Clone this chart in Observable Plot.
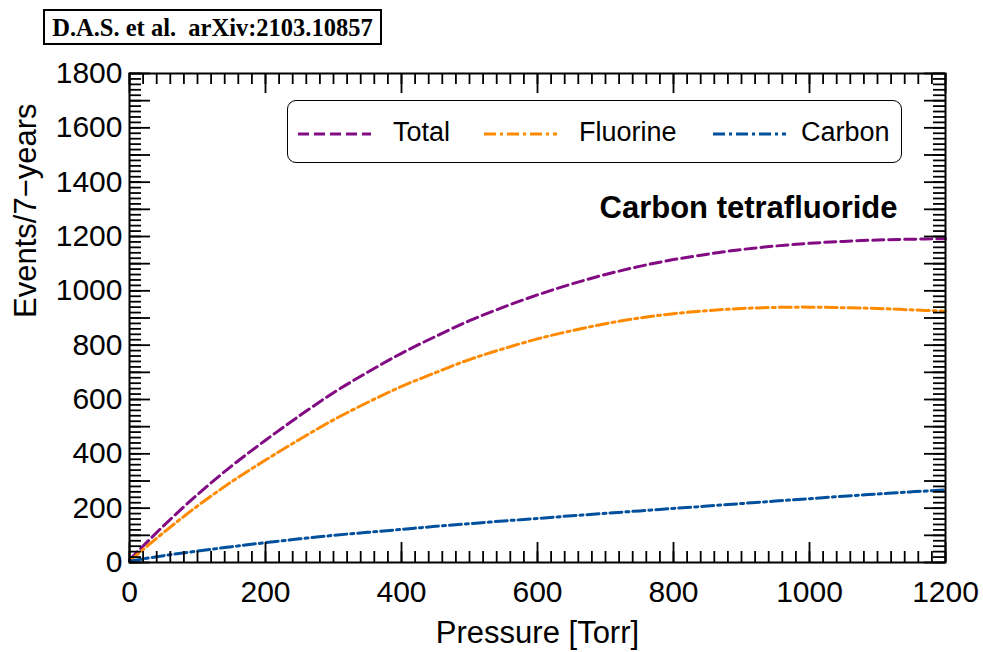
<!DOCTYPE html>
<html><head><meta charset="utf-8">
<script src="https://cdn.jsdelivr.net/npm/d3@7"></script>
<script src="https://cdn.jsdelivr.net/npm/@observablehq/plot@0.6"></script>
<style>
body{margin:0;background:#fff;}
#wrap{position:relative;width:983px;height:652px;font-family:"Liberation Sans",Arial,sans-serif;color:#000;}
#wrap > svg{position:absolute;left:0;top:0;}
#cite{position:absolute;left:43px;top:9px;width:335px;height:32px;border:2px solid #000;font-family:"Liberation Serif","Times New Roman",serif;font-weight:bold;font-size:24.5px;line-height:33px;text-align:center;white-space:pre;background:#fff;}
#legend{position:absolute;left:287px;top:100px;width:613px;height:61px;border:1.5px solid #000;border-radius:9px;background:#fff;}
#legend .t{position:absolute;top:15px;font-size:27px;line-height:32px;}
#legend svg{position:absolute;top:23px;}
</style></head>
<body><div id="wrap"></div>
<script>
// Data (Pressure in Torr, events per 7 years)
const pressure = [0,50,100,150,200,250,300,350,400,450,500,550,600,650,700,750,800,850,900,950,1000,1050,1100,1150,1200];
const total    = [10,135,250,355,450,540,625,700,770,832,890,940,985,1025,1060,1090,1115,1135,1152,1165,1175,1182,1187,1190,1192];
const fluorine = [5,110,208,297,377,453,525,589,648,699,747,787,823,853,879,900,916,927,935,939,940,938,935,930,925];
const carbon   = [5,25,42,58,73,87,100,111,122,133,143,153,162,172,181,190,199,208,217,226,235,244,252,260,267];

const seriesNames = ["Total","Fluorine","Carbon"];
const seriesColors = ["#820a82","#ff8a00","#00509e"];
const seriesDash = ["11,5","12,4,3,4","12,4,3,4"];

const xTickLabels = [0,200,400,600,800,1000,1200];
const yTickLabels = [0,200,400,600,800,1000,1200,1400,1600,1800];
const xMajorTicks = [0,200,400,600,800,1000,1200];
const xMinorTicks = d3.range(0,1201,20);
const yMajorTicks = d3.range(0,1801,100);
const yMinorTicks = d3.range(0,1801,20);

const xTitle = "Pressure [Torr]";
const yTitle = "Events/7\u2212years";
const gasLabel = "Carbon tetrafluoride";
const citation = "D.A.S. et al.  arXiv:2103.10857";

const W = 983, H = 652;
const mL = 129, mR = 38, mT = 73, mB = 90;
const pw = W - mL - mR, ph = H - mT - mB;

const rows = [];
const vals = [total, fluorine, carbon];
seriesNames.forEach((s, k) => pressure.forEach((p, i) => rows.push({series: s, p, v: vals[k][i]})));

const lineMarks = seriesNames.map((s, k) =>
  Plot.line(rows.filter(d => d.series === s), {
    x: "p", y: "v", stroke: seriesColors[k], strokeWidth: 3,
    strokeDasharray: seriesDash[k], curve: "catmull-rom"
  })
);

const fmt = d3.format("d");
const tk = {stroke: "#000", strokeWidth: 1.8};
const chart = Plot.plot({
  width: W, height: H,
  marginLeft: mL, marginRight: mR, marginTop: mT, marginBottom: mB,
  style: {fontFamily: "'Liberation Sans', Arial, sans-serif", fontSize: "30px", color: "#000", background: "transparent"},
  x: {domain: [0, 1200]},
  y: {domain: [0, 1800]},
  marks: [
    ...lineMarks,
    // inward ticks, bottom & top
    Plot.tickX(xMinorTicks, {x: d => d, insetTop: ph - 11, ...tk}),
    Plot.tickX(xMajorTicks, {x: d => d, insetTop: ph - 20, ...tk}),
    Plot.tickX(xMinorTicks, {x: d => d, insetBottom: ph - 11, ...tk}),
    Plot.tickX(xMajorTicks, {x: d => d, insetBottom: ph - 20, ...tk}),
    // inward ticks, left & right
    Plot.tickY(yMinorTicks, {y: d => d, insetRight: pw - 12, ...tk}),
    Plot.tickY(yMajorTicks, {y: d => d, insetRight: pw - 21, ...tk}),
    Plot.tickY(yMinorTicks, {y: d => d, insetLeft: pw - 12, ...tk}),
    Plot.tickY(yMajorTicks, {y: d => d, insetLeft: pw - 21, ...tk}),
    Plot.frame({stroke: "#000", strokeWidth: 2}),
    Plot.axisX(xTickLabels, {tickSize: 0, tickPadding: 18, fontSize: 30, tickFormat: fmt, label: null}),
    Plot.axisY(yTickLabels, {tickSize: 0, tickPadding: 7, fontSize: 30, tickFormat: fmt, label: null}),
    Plot.text([xTitle], {frameAnchor: "bottom", dy: 58, lineAnchor: "top", fontSize: 31, text: d => d}),
    Plot.text([yTitle], {frameAnchor: "left", dx: -103, rotate: -90, lineAnchor: "middle", fontSize: 31, text: d => d}),
    Plot.text([gasLabel], {frameAnchor: "top-right", dx: -48, dy: 135, lineAnchor: "middle", textAnchor: "end", fontSize: 31, fontWeight: "bold", text: d => d})
  ]
});

const wrap = document.getElementById("wrap");
wrap.appendChild(chart);

const cite = document.createElement("div");
cite.id = "cite";
cite.textContent = citation;
wrap.appendChild(cite);

const legend = document.createElement("div");
legend.id = "legend";
const lineX = [10, 196, 425];
const textX = [105, 291, 513];
seriesNames.forEach((s, k) => {
  const svg = d3.create("svg").attr("width", 74).attr("height", 20)
    .style("left", lineX[k] + "px");
  svg.append("line").attr("x1", 0).attr("x2", 73).attr("y1", 10).attr("y2", 10)
    .attr("stroke", seriesColors[k]).attr("stroke-width", 3)
    .attr("stroke-dasharray", seriesDash[k]);
  legend.appendChild(svg.node());
  const t = document.createElement("span");
  t.className = "t";
  t.style.left = textX[k] + "px";
  t.textContent = s;
  legend.appendChild(t);
});
wrap.appendChild(legend);
</script>
</body></html>
